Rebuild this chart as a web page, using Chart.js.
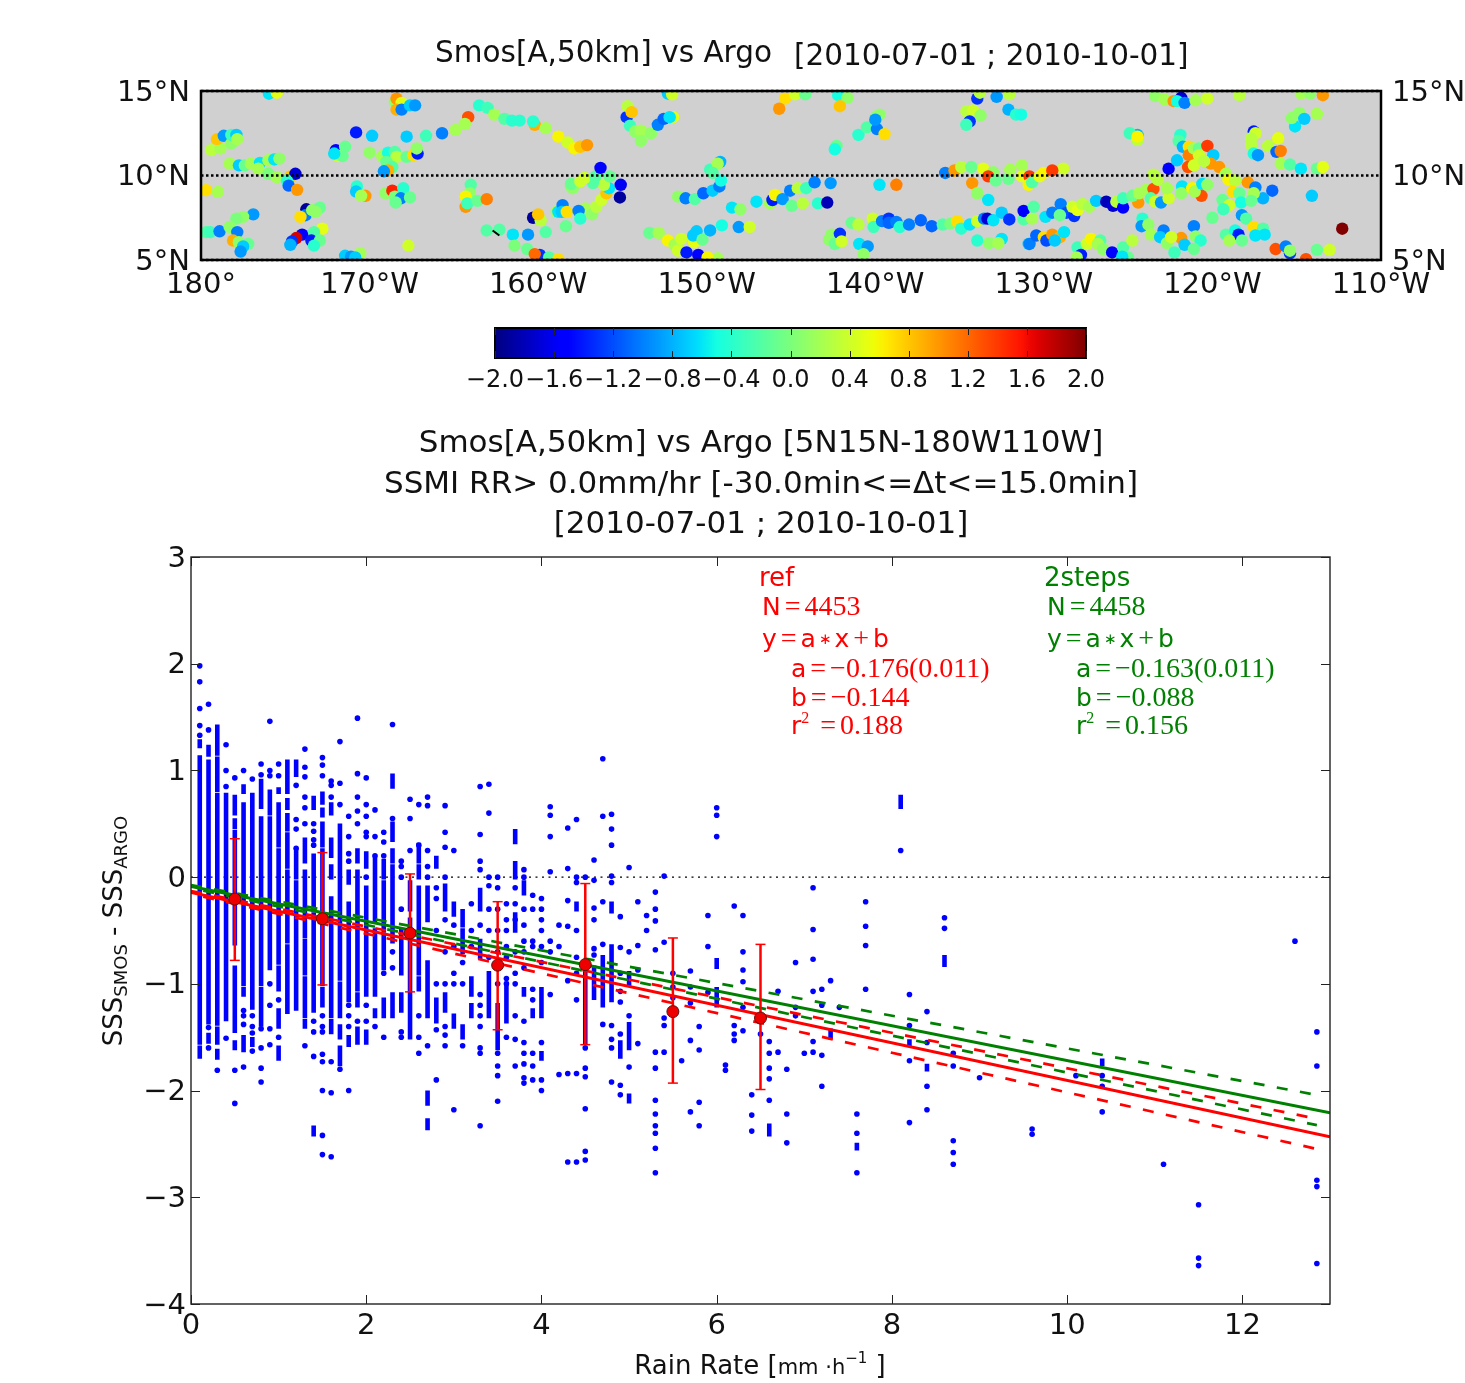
<!DOCTYPE html>
<html><head><meta charset="utf-8">
<style>
html,body{margin:0;padding:0;background:#fff;width:1465px;height:1383px;overflow:hidden}
canvas{position:absolute;left:0;filter:blur(0.45px)}
</style>
<script src="https://cdn.jsdelivr.net/npm/chart.js@4/dist/chart.umd.min.js"></script>
</head><body>
<canvas id="map" width="1465" height="310" style="top:0"></canvas>
<canvas id="bar" width="1465" height="100" style="top:310px"></canvas>
<canvas id="rain" width="1465" height="963" style="top:420px"></canvas>
<script>
// ---------- map: [lon, lat, salinity difference] ----------
const mapPoints = [
[-175.97,14.84,-.6],[-175.5,14.9,.5],[-168.5,14.35,.1],[-168.4,14.55,1],[-168.1,14.3,.5],[-168.4,13.9,.9],[-168.1,13.9,-1],[-167.6,14.15,-.7],[-167.3,14.15,-.9],
[-179.7,9.13,.7],[-179,9.03,.2],[-179.7,6.65,-.2],[-179.45,6.65,-.3],[-178.9,6.7,-1],[-179.4,11.5,.3],[-178.85,11.6,.2],[-179.05,12.15,.8],[-178.65,12.35,-.9],[-178.2,11.9,.1],[-178.2,12.4,-.3],[-177.9,12.4,-.7],[-177.85,12.15,.2],
[-178.3,10.7,.2],[-177.75,10.6,-.7],[-177.4,10.6,-.1],[-177.05,10.7,.2],[-176.5,10.75,-.6],[-176,10.9,.2],[-175.65,10.95,-.6],[-175.35,11,.1],[-176.6,10.4,.2],[-176,10.1,0],[-175.5,9.9,.2],[-174.7,9.95,.8],[-174.4,10.1,-1.7],[-174.9,9.7,-.4],[-174.8,9.4,-1.1],[-174.3,9.15,1],
[-176.9,7.7,-.9],[-177.5,7.55,.1],[-177.9,7.45,0],[-178.3,6.95,.1],[-177.85,6.65,-1],[-178.1,6.15,.9],[-177.75,6.05,.1],[-177.2,5.95,-.1],[-177.5,5.8,-.7],[-177.65,5.5,-.9],
[-173.75,8,-1.9],[-173.8,7.65,-1],[-174.1,7.55,.7],[-173.4,7.95,.1],[-172.95,8.1,-.1],[-173.2,7.85,.1],[-172.8,6.85,.5],[-173.3,6.65,-.2],[-174,6.5,-1.5],[-174.35,6.3,1.7],[-174.6,6.1,-1.3],[-174.7,5.9,-.8],[-173.45,6.15,-1.4],[-172.95,6.15,-.1],[-173.3,5.85,-.4],
[-171.45,5.25,-.7],[-171.1,5.2,-.9],[-170.55,5.4,.2],[-170.85,5.15,-.7],[-170.8,12.55,-1.4],[-169.85,12.35,-.7],[-172,11.5,-1.5],[-171.45,11.7,-.1],[-171.85,11.15,.4],[-171.6,11.15,-.1],[-172.1,11.3,-.6],
[-170,11.35,.1],[-169.25,11.15,.2],[-168.9,11.35,-.5],[-168.5,11.4,-.2],[-168.4,11.1,.3],[-169,10.8,-.1],[-168.65,10.5,-.2],[-168.9,10.3,.9],[-169.15,10.25,-.9],[-167.8,11.1,-.1],[-167.4,11.2,.7],[-167.15,11.3,-1.4],[-167.2,11.6,.1],
[-167.8,12.3,-.7],[-166.65,12.35,-.3],[-165.7,12.5,-1],[-164.9,12.7,.2],[-164.15,13.45,1.3],[-164.35,13.05,.2],[-163.5,14.15,-.4],[-163,14,-.3],[-162.6,13.6,.2],[-162,13.35,-.2],[-161.55,13.25,-.4],[-161.1,13.25,-.4],[-160.2,13,.9],[-160.3,13.2,-.4],[-159.55,12.8,.2],[-158.8,12.3,.6],[-158.25,11.95,.4],[-157.85,11.6,.6],[-157.5,11.7,.8],[-157.1,11.8,1],
[-170.75,9.35,-.4],[-170.8,9.05,-.7],[-170.25,8.8,1],[-170.5,8.8,.2],[-169.05,8.95,.1],[-168.65,9.1,1.5],[-168,9.25,-.4],[-168.5,8.75,0],[-168.15,8.65,-1],[-167.6,8.7,-.1],[-168.45,8.4,-.1],[-167.7,5.85,.4],
[-164,9.45,-.2],[-164.05,8.95,.1],[-164.3,8.75,.6],[-164.3,8.15,1],[-164.2,8.35,-.3],[-163.6,8.5,-.1],[-163.05,8.6,1.1],[-163.05,6.75,-.2],[-162.3,6.8,-.2],[-161.5,6.5,-.6],[-160.6,6.5,-.9],[-159.55,6.65,-.2],[-161.4,5.85,0],[-160.65,5.65,-.1],[-159.9,5.3,-1.3],[-160.2,5.35,1.2],[-159.35,5.15,-.2],[-158.8,5.05,.7],
[-160.3,7.5,-1.9],[-159.85,7.35,.3],[-160,7.7,.8],[-158.9,7.85,.2],[-158.8,7.85,-.6],[-158.55,8.25,-1],[-158.6,7.85,-.7],[-158.3,7.85,.7],[-158.35,7,-.1],[-157.2,8.05,.2],[-157.6,7.9,-1],[-157.5,7.45,-.4],[-156.8,7.7,.1],[-156.55,8.15,.3],[-156.25,8.55,.4],[-155.95,8.95,.8],[-155.8,9.25,-.6],[-156.1,9.45,.3],[-156.75,9.55,-.2],[-158.05,9.35,.1],[-157.95,9.25,.1],[-158.05,9.5,-.1],[-157.5,9.65,.4],[-157.25,9.85,.4],[-156.6,9.95,-.2],[-155.75,9.95,-.1],[-156.3,10.45,-1.5],[-155.1,9.45,-1.6],[-155.15,8.7,-1.9],
[-154.75,13.45,-1.3],[-154.7,14.1,.3],[-154.45,13.75,.8],[-154.55,12.95,-.3],[-154.25,12.6,.1],[-153.9,12.65,.2],[-153.9,12.05,.1],[-153.3,12.5,.1],[-152.9,13,-1],[-152.55,13.35,-1.1],[-152,13.45,.5],[-152.2,13.45,-.6],[-152.3,14.85,-.7],[-152.05,14.8,.4],
[-153.4,6.6,-.1],[-152.85,6.6,.2],[-152.3,6.15,.6],[-151.9,5.9,.2],[-151.5,6.25,.4],[-151.7,5.55,.4],[-151.2,5.45,-1.4],[-150.5,5.3,-1.5],[-150.75,6.05,.5],[-150.8,6.45,-.7],[-150.6,6.7,-.7],[-150.25,6.2,-.1],[-149.8,6.75,-.8],[-149.1,7.05,-.5],[-148.1,6.95,-.9],[-149.35,5.1,.2],[-149.95,5.15,.6],[-148.5,8.1,-.6],[-148,8,.1],
[-151.7,8.75,.1],[-151.25,8.65,-1],[-150.7,8.6,-.2],[-150.2,8.95,-1.1],[-149.65,9.1,-.7],[-149.25,9.35,-1],[-149.15,9.7,-.5],[-149.8,10.35,-.3],[-149.2,10.8,-.8],[-149.35,10.7,.2],[-149.65,10.15,-.2],
[-147.05,8.45,-.6],[-146.25,8.35,.2],[-146.1,8.55,-1.4],[-145.95,8.85,.6],[-145.5,8.6,-.9],[-145.05,9.1,-1],[-144.95,8.2,-.1],[-144.6,9.25,.3],[-144.3,8.35,.3],[-144.1,9.25,-.3],[-143.6,9.6,-1],[-142.65,9.55,-.9],[-143.4,8.35,-.4],[-142.85,8.4,-1.8],[-147.45,6.95,.4],
[-145.35,14.55,.7],[-145.7,13.95,1],[-144.75,14.8,.4],[-144.15,14.8,-.1],[-142.2,14.75,-.5],[-141.65,14.6,.1],[-142.1,14.1,.8],[-142.3,11.75,-.1],[-142.4,11.55,-.5],[-141,12.4,-.4],[-140.5,12.85,-.2],[-139.9,12.75,-1],[-139.45,12.45,.7],[-139.75,13.6,.1],[-139.95,13.45,.1],[-140,13.3,-.9],[-139.75,9.45,-.6],[-138.75,9.45,1.1],
[-141.4,7.2,-.1],[-141,7.1,.3],[-140.15,7.45,.4],[-140.1,6.95,-.3],[-139.6,7.3,-1],[-139.2,7.45,-1.3],[-139.2,7.2,-1.1],[-138.75,7.25,-1],[-138.55,6.95,-.4],[-138,7.1,-1],[-137.3,7.35,-1.1],[-136.65,7,-1.1],[-136,7.1,-.2],[-135.55,7.15,0],[-135.15,7.3,.7],[-134.9,6.85,-.4],[-134.4,7.1,-.6],[-133.95,7.3,.4],[-133.55,7.45,-1],[-133.35,7.45,-1.7],[-133,7.35,-.6],[-132.5,7.8,-.7],[-132.05,7.4,-1.3],[-131.2,7.4,-.2],[-131.2,7.9,-1.5],[-130.7,7.45,.2],[-130.6,8.15,-.2],[-129.9,7.55,-.6],[-129.5,7.8,-1],[-129,8.3,-1],[-128.65,7.8,-1.2],[-129.05,7.65,-.1],[-128.2,7.6,-1.3],[-128.3,8.15,.4],[-128,7.95,.5],[-127.7,8.3,.3],[-127.3,8.15,.2],[-126.9,8.5,-.7],[-126.3,8.45,-1.8],[-125.9,8.2,-1.7],[-125.7,8.45,.3],[-125.3,8.1,-1.5],[-124.4,8.4,1],[-125.3,8.65,-.3],[-124.75,8.8,-.1],[-124.35,8.95,.2],[-123.95,9.15,.2],[-123.5,9.2,1.3],[-123.65,8.65,-.2],[-123.4,8.45,.4],[-123.05,8.4,-.9],[-122.6,8.65,.4],[-122.7,9.25,.2],[-123.25,9.75,.3],[-123.5,10.05,.3],[-122.6,10.4,-1.5],[-122.1,10.9,-.7],[-121.9,12.4,-.4],[-122,12.05,-.2],[-121.75,11.7,-.8],[-121.4,11.7,.7],[-121.4,11.2,1.1],[-121.45,10.5,1.3],[-121.1,11.6,.2],[-120.8,11.6,-.1],[-120.3,11.75,1.4],[-119.95,11.2,-.7],[-120.8,11.2,.4],[-121.1,10.6,.4],[-120.1,10.7,1],[-119.6,10.5,1],[-120.5,10.85,.3],[-119.2,10.1,.2],
[-121.8,9.35,-.6],[-121.85,8.95,.1],[-121.2,9.25,.6],[-120.65,8.8,1.3],[-121.05,9.05,.2],[-120.6,9.5,-.6],[-120.3,9.45,.1],[-119.05,9.75,.6],[-118.65,9.7,.3],[-117.9,9.6,1],[-117.45,9.3,-1],[-116.45,9.1,-1.1],[-117,8.65,-.8],[-117.55,8.95,.2],[-118.8,9.05,.7],[-118.4,8.95,-.1],[-119.4,8.55,-.1],[-118.3,8.4,-.5],[-119,8.25,.4],[-119.35,8,-.3],[-117.7,8.5,-.1],[-118.25,7.65,-.9],[-114.1,8.8,-.7],[-120,7.5,-.1],[-118,7.45,-.2],
[-124.15,7.45,-.4],[-124.2,7,-.9],[-123.8,7.1,.1],[-123.65,6.5,.2],[-122.9,6.75,-1],[-123.1,6.35,-.7],[-121.85,6.3,1],[-122.7,6,.1],[-122.45,6.35,.4],[-121.1,7,-1],[-121.65,5.9,-.7],[-122.25,5.45,-.3],[-121,6.4,.1],[-120.7,6.15,-.4],[-121.1,5.65,-.1],
[-119.2,6.5,-.2],[-118.65,6.75,-.5],[-118.45,6.5,-1.4],[-119,6.15,.2],[-118.25,6.15,-.1],[-117.55,6.95,.7],[-117,6.85,-.2],[-117.45,6.45,-.6],[-116.9,6.5,-.6],[-116.25,5.65,1.3],[-115.65,5.8,-1],[-115.4,5.4,-1.3],[-115.4,5.55,.1],[-114.45,5.05,1.3],[-113.8,5.6,-.1],[-113.05,5.6,.4],[-112.3,6.85,2],
[-123.4,14.7,.1],[-122.85,14.5,.2],[-122.3,14.4,1],[-121.85,14.6,-1.7],[-122.1,14.4,-.5],[-121.65,14.3,-1],[-121,14.45,.2],[-120.3,14.55,.4],[-118.4,14.75,.3],[-114.75,14.85,.2],[-114.2,14.85,.1],[-113.45,14.75,1],
[-124.45,12.4,-.8],[-124.9,12.5,-.3],[-124.45,12.1,.3],[-124.45,12.3,.6],[-117.55,12.6,-1.4],[-117.45,12.5,.4],[-117.7,12.2,.3],[-117.7,11.8,.3],[-116.7,11.75,.3],[-116.1,12.2,.5],[-117.55,11.3,-.5],[-117.3,11.2,-.9],[-116.2,11.4,-1.1],[-115.95,11.45,1.1],[-115.95,10.7,.2],[-115.4,10.65,-.2],[-114.75,10.4,-.6],[-113.8,10.4,-.1],[-113.45,10.5,.5],[-115.1,12.9,-.6],[-115.3,13.4,.1],[-114.85,13.7,.1],[-114.55,13.35,-.7],[-113.8,13.65,.2],
[-134.6,13.8,.3],[-134.2,13.85,.4],[-133.75,13.55,.1],[-134.4,13.2,-1.3],[-134.6,13,-.3],[-133.95,14.55,-1.3],[-132.8,14.65,-.9],[-133.8,14.9,.3],[-132.05,14.8,.3],[-132.1,13.9,-.8],[-131.65,13.6,-.4],[-131.35,13.6,-.5],
[-135.85,10.15,-1],[-135.3,10.3,1],[-134.9,10.5,.3],[-134.3,10.5,-.1],[-133.6,10.4,.5],[-133,10.2,.1],[-133.3,9.95,1.4],[-134.25,9.55,1],[-132.85,9.7,-.1],[-132.1,9.8,-.1],[-132,10.35,.2],[-131.3,10.6,.2],[-131.3,9.95,.5],[-130.85,9.95,1.4],[-130.9,9.45,.6],[-130.7,9.6,-.2],[-130.25,9.95,.5],[-130,10.15,.6],[-128.85,10.4,.4],[-129.5,10.3,1.4],[-133.95,8.95,.1],[-133.3,8.55,-.6],
[-133.95,6.15,-.4],[-133.25,6,.1],[-132.5,6.25,-.6],[-132.7,6,.2],[-130.9,5.95,-.7],[-130.85,5.95,-1],[-130.45,6.45,-1.1],[-130,6.35,.7],[-129.85,6.15,-1.2],[-129.5,6.5,1],[-129.05,6.35,.9],[-129.35,6.15,-.7],[-128.8,6.65,-.6],
[-142.75,6.2,.1],[-142.6,6.5,.1],[-142.1,6.55,-1.3],[-142.4,5.95,-.1],[-142,6.1,.4],[-140.95,5.95,-.6],[-140.45,5.8,-.9],[-140.7,5.35,.1],
[-128,5.75,-.3],[-127.8,5.3,-1.4],[-128.05,5.15,.2],[-127.45,5.95,.4],[-127.2,6.25,.6],[-126.65,6.15,-.2],[-126.8,5.95,.2],[-126.5,5.65,.1],[-125.95,5.45,-1.5],[-125.3,5.75,-.2],[-124.75,6.15,.3],[-125,5.15,-.1],[-125.35,5.2,-.6]
];
const mapStreak = [[-162.7,6.75],[-162.3,6.45]];
const latLines = [5,10,15];
const mapLonRange = [-180,-110];
const mapLatRange = [5,15];
const colorRange = [-2,2];

// ---------- rain scatter: a number is one dot, a pair is a solid run of dots ----------
const rainRates = [.1,.2,.3,.4,.5,.6,.7,.8,.9,1,1.1,1.2,1.3,1.4,1.5,1.6,1.7,1.8,1.9,2,2.1,2.2,2.3,2.4,2.5,2.6,2.7,2.8,2.9,3,3.1,3.2,3.3,3.4,3.5,3.6,3.7,3.8,3.9,4,4.1,4.2,4.3,4.4,4.5,4.6,4.7,4.8,4.9,5,5.1,5.2,5.3,5.4,5.5,5.6,5.7,5.8,5.9,6,6.1,6.2,6.3,6.4,6.5,6.6,6.7,6.8,6.9,7,7.1,7.2,7.3,7.4,7.6,7.7,8.1,8.2,8.4,8.6,8.7,9,9.6,10.1,10.4,11.1,11.5,12.6,12.85];
const rainDiffs = [
[1.98,1.83,1.58,1.42,1.33,[1.27,1.23],[1.12,1.05],[1.02,-1.36],[-1.4,-1.55],[-1.6,-1.68]],
[1.62,1.38,[1.22,1.15],[1.08,-1.36],-1.41,[-1.48,-1.54],-1.6],
[[1.41,1.28],[1.24,1.16],[1.11,.92],[.88,.82],[.77,-1.37],[-1.42,-1.55],[-1.63,-1.69],-1.81],
[1.24,1,.85,[.77,-1.33],-1.51],
[.93,[.75,.68],[.66,.6],[.53,.47],[.42,-.62],[-.85,-1.37],[-1.4,-1.44],[-1.55,-1.6],-1.81,-2.12],
[1,[.85,.8],[.68,-1],[-1.05,-1.1],-1.25,-1.3,-1.38,[-1.5,-1.62],-1.78],
[.92,[.77,.7],[.68,.62],[.6,.45],[.43,-1.22],-1.3,-1.4,-1.46,[-1.52,-1.57],-1.63],
[1.06,.96,[.9,.76],[.72,.66],[.55,.45],[.42,-1],[-1.05,-1.38],-1.42,-1.6,-1.79,-1.92],
[1.46,1,.95,[.8,.7],[.67,.6],[.55,.3],[.28,-.85],-1,-1.2,-1.42,-1.57],
[1.06,.95,[.82,.8],[.68,.3],[.25,-.8],[-.85,-1.05],-1.15,[-1.25,-1.4],-1.5,[-1.6,-1.7]],
[[1.08,.9],[.88,.8],[.72,.65],[.58,.45],[.4,.1],[.05,-.6],[-.65,-1.26]],
[[1.08,1.04],[1,.96],.86,.54,.45,.27,[.25,0],[-.05,-1],[-1,-1.23]],
[1.2,1.03,.94,.75,.65,.5,[.35,.15],[.05,-.05],[-.05,-.55],[-.6,-.9],[-.95,-1.05],[-1.05,-1.3],[-1.35,-1.4],-1.58],
[[.74,.65],.5,.43,.35,.3,[.2,-.3],[-.35,-1.25],-1.35,-1.45,-1.68,[-2.35,-2.41]],
[1.12,1.05,.95,[.78,.7],[.63,.58],[.5,.3],[.25,.18],[.15,-1],[-1.05,-1.2],-1.3,-1.4,-1.45,-1.66,-1.73,-2,-2.42,-2.6],
[.9,.86,.75,[.68,.6],[.35,.2],[.1,0],[-.2,-1.3],[-1.35,-1.45],-1.73,-2.02,-2.62],
[1.27,.88,.68,[.48,.18],[.18,-.1],[-.1,-.95],[-1,-1.3],[-1.4,-1.5],[-1.6,-1.75],-1.8],
[.57,.38,.22,.15,[.05,-.05],[-.25,-1.15],-1.2,-1.3,-1.4,[-1.5,-1.57],-2],
[1.49,.97,.75,.62,.5,[.25,.15],[.05,-1.05],[-1.1,-1.2],-1.35,[-1.42,-1.55]],
[.93,.68,.57,.42,.38,[.22,.1],0,[-.1,-1],[-1,-1.1],-1.2,-1.35,[-1.45,-1.55]],
[.63,.38,.2,[.18,-.4],[-.5,-1.1],[-1.25,-1.3],-1.4],
[.42,.33,.2,[.15,0],[-.05,-.5],[-.55,-.85],-.9,[-1.15,-1.3],-1.5],
[1.43,[.95,.85],.55,[.5,.35],[.25,.15],[.1,-.1],[-.1,-.6],-.7,-.85,[-1.1,-1.3]],
[.15,.1,0,-.3,[-.5,-.9],[-1.1,-1.25],-1.45,-1.5],
[.73,.55,.25,[-.05,-.3],[-.4,-1.25],[-1.1,-1.5]],
[.68,.3,[.3,.15],[.1,0],[-.1,-.9],[-.95,-1.05],-1.3,-1.5,-1.65],
[.75,.67,.25,.1,0,[-.1,-.4],[-.8,-1.1],[-1.1,-1.3],-1.58,[-2.02,-2.12],[-2.28,-2.35]],
[[.18,.1],-.1,-.2,-.5,-1,[-1.15,-1.35],-1.43,-1.9],
[.67,.42,.28,0,[-.08,-.3],-.4,-.7,-1,[-1.1,-1.25],-1.4,-1.48,-1.58],
[.25,[-.25,-.35],-.45,-.65,-.9,-1,[-1.3,-1.4],-2.18],
[[-.32,-.45],[-.5,-.7],-.8,-1,[-1.4,-1.5],-1.58],
[-.25,-.5,-.65,[-.95,-1.1],[-1.2,-1.3]],
[.85,.4,.15,.07,[-.12,-.3],-.45,[-.6,-.75],-1.1,-1.2,-1.3,-1.4,-1.6,-1.65,-2.33],
[.87,.6,0,-.08,-.3,-.5,-.75,[-.9,-1.3]],
[0,-.1,-.3,-.5,-.7,-1,[-1.2,-1.6],-1.65,-1.77,-1.86,-2.1],
[-.25,-.4,-.5,-.65,-.75,-.95,-1,[-1,-1.35],-1.5],
[[.43,.33],[.13,0],-.1,-.25,-.4,[-.35,-.5],-.7,-.9,-1,-1.3,-1.52,-1.77],
[.07,0,[-.05,-.15],-.3,-.45,-.6,-.7,-.85,[-1.05,-1.1],-1.35,-1.55,-1.65,-1.75,-1.88,-1.93],
[-.17,-.3,-.6,-.65,-1.05,-1.15,[-1.25,-1.3],-1.65,-1.77,-1.9],
[-.2,-.3,-.4,-.5,-.65,-.8,[-1.05,-1.3],-1.55,[-1.65,-1.7],-1.9,-2],
[.66,.58,.38,.05,-.6,-.7,-1.1],
[-.45,-.65,-1.85],
[.46,.08,-.22,-.46,-.97,-1.84,-2.67],
[.54,0,-.05,[-.25,-.3],-.5,-.75,-.9,-1.15,-1.84,-2.67],
[0,[-.85,-1.55],-1.6,-1.79,-1.87,-2.17,-2.57,-2.65],
[.16,-.03,-.29,-.4,-.67,-.73,[-.85,-1.13]],
[1.11,.57,-.23,-.63,[-.75,-.95],[-1,-1.2],-1.38],
[.59,.45,.3,.01,-.05,[-.25,-.32],[-.65,-1.15],-1.39,-1.52,-1.6,-1.92],
[-.37,-.66,-.9,-1.07,-1.17,-1.47,[-1.55,-1.68],-1.95,-2.04],
[.09,-.7,[-.9,-1],-1.3,[-1.38,-1.6],-1.78,[-2.05,-2.1]],
[-.23,-.64,-.87,-1.56],
[-.36,-.5],
[-.14,-.3,-.41,-.68,-1.64,-1.79,-2.09,-2.22,-2.33,-2.4,-2.54,-2.77],
[.01,-.61,-1.32,-1.39,-1.64],
[-.9,-1.03,-1.13],
[-1.72],
[-.88,-1.03,-1.18,-1.53,-2.2],
[-1.4,-1.62,-2.11,-2.33],
[-.36,-.65,-1.08],
[.65,.58,.38,[-.78,-.84],[-1.05,-1.2]],
[-1.76,-1.81],
[-.27,-1.39,-1.47,-1.53],
[-.36,-.7,-.87,-.98,-1.22,-1.44],
[-2.04,-2.23,-2.38],
[-1.47],
[-1.54,-1.65,-1.79,-1.89,-2.09,[-2.33,-2.41]],
[-1.07,-1.64],
[-1.8,-2.22,-2.49],
[-.8,-1.22,-1.3],
[-1.65],
[-.1,-.49,-.77,-1.07,-1.54,-1.64],
[-1.05,-1.2,-1.67,-1.96],
[-.97,[-1.44,-1.5]],
[-1.22],
[-2.22,-2.4,[-2.51,-2.54],-2.77],
[-.23,-.46,-.64,-1.05],
[[.75,.66],.25],
[-1.1,-1.39,[-1.54,-1.57],-1.72,-2.3],
[-1.26,-1.55,[-1.77,-1.8],-1.96,-2.18],
[-.38,-.48,[-.75,-.82]],
[-1.65,-1.77,-2.47,-2.58,-2.69],
[-1.88],
[-2.36,-2.41],
[-1.86],
[[-1.72,-1.75],-1.86,-1.96,-2.2],
[-2.69],
[-3.07,-3.57,-3.64],
[-.6],
[-1.45,-1.77,-2.84,-2.9,-3.62]
];
// ---------- binned means and their spread ----------
const binCentres = [.5,1.5,2.5,3.5,4.5,5.5,6.5];
const binMeans   = [-.206,-.39,-.525,-.825,-.82,-1.26,-1.32];
const binTops    = [.36,.23,.03,-.23,-.06,-.57,-.63];
const binBottoms = [-.78,-1.01,-1.075,-1.43,-1.57,-1.93,-1.99];
// ---------- fits: [[x0,y0],[x1,y1]] ----------
const zeroLine  = [[0,0],[13,0]];
const refFit    = [[0,-.144],[13,-2.432]];
const refUpper  = [[0,-.13],[12.85,-2.264]];
const refLower  = [[0,-.158],[12.85,-2.547]];
const stepsFit  = [[0,-.088],[13,-2.207]];
const stepsUpper= [[0,-.074],[12.85,-2.041]];
const stepsLower= [[0,-.102],[12.85,-2.324]];

Chart.defaults.animation = false;
Chart.defaults.responsive = false;
Chart.defaults.font.family = '"DejaVu Sans"';
Chart.defaults.color = '#000';
Chart.defaults.plugins.legend.display = false;
Chart.defaults.plugins.tooltip.enabled = false;

function lerpStops(t,s){ for(let i=1;i<s.length;i++){ if(t<=s[i][0]){ const a=s[i-1],b=s[i]; return a[1]+(b[1]-a[1])*(t-a[0])/(b[0]-a[0]); } } return s[s.length-1][1]; }
function jet(v){
  const t=Math.max(0,Math.min(1,(v-colorRange[0])/(colorRange[1]-colorRange[0])));
  const r=lerpStops(t,[[0,0],[.35,0],[.66,1],[.89,1],[1,.5]]);
  const g=lerpStops(t,[[0,0],[.125,0],[.375,1],[.64,1],[.91,0],[1,0]]);
  const b=lerpStops(t,[[0,.5],[.11,1],[.34,1],[.65,0],[1,0]]);
  return `rgb(${Math.round(r*255)},${Math.round(g*255)},${Math.round(b*255)})`;
}
const pts = a => a.map(p=>({x:p[0],y:p[1]}));
const fixedAxis = (s,prop,val)=>{ s[prop]=val; };

// frame, inner ticks, background, texts
const furniture = {
  id:'furniture',
  beforeDatasetsDraw(c,_,o){
    const a=c.chartArea,g=c.ctx;
    if(o.background){ g.save(); g.fillStyle=o.background; g.fillRect(a.left,a.top,a.width,a.height); g.restore(); }
    if(o.jet){ g.save(); const gr=g.createLinearGradient(a.left,0,a.right,0);
      for(let i=0;i<=64;i++){ gr.addColorStop(i/64,jet(colorRange[0]+(colorRange[1]-colorRange[0])*i/64)); }
      g.fillStyle=gr; g.fillRect(a.left,a.top,a.width,a.height); g.restore(); }
  },
  afterDraw(c,_,o){
    const a=c.chartArea,g=c.ctx; g.save();
    g.lineWidth=o.frame||1.5; g.strokeStyle=o.frameColor||'#000';
    g.strokeRect(a.left,a.top,a.width,a.height);
    const L=o.tick||0;
    if(L){ g.lineWidth=1; g.strokeStyle='#222'; g.beginPath();
      c.scales.x.ticks.forEach(t=>{const p=Math.round(c.scales.x.getPixelForValue(t.value))+.5; g.moveTo(p,a.top);g.lineTo(p,a.top+L);g.moveTo(p,a.bottom);g.lineTo(p,a.bottom-L);});
      if(o.yTicks) c.scales.y.ticks.forEach(t=>{const p=Math.round(c.scales.y.getPixelForValue(t.value))+.5; g.moveTo(a.left,p);g.lineTo(a.left+L,p);g.moveTo(a.right,p);g.lineTo(a.right-L,p);});
      g.stroke(); }
    g.restore();
    (o.texts||[]).forEach(t=>drawRuns(g,t));
  }
};
function drawRuns(g,t){
  g.save(); g.translate(t.x,t.y); if(t.rot) g.rotate(t.rot);
  g.fillStyle=t.color||'#111'; g.textBaseline='alphabetic'; g.textAlign='left';
  const runs=t.runs||[{s:t.s,f:t.f}]; let tot=0;
  runs.forEach(r=>{g.font=r.f||t.f; tot+=g.measureText(r.s).width+2*(r.pad||0);});
  let x=t.center?-tot/2:0;
  runs.forEach(r=>{g.font=r.f||t.f; x+=r.pad||0; g.fillText(r.s,x,r.dy||0); x+=g.measureText(r.s).width+(r.pad||0);});
  g.restore();
}
const tickFont={size:29,family:'"DejaVu Sans"'};
const minus=s=>String(s).replace('-','\u2212');

// ---------- map chart ----------
new Chart(document.getElementById('map'),{
  type:'scatter',
  plugins:[furniture],
  data:{datasets:[
    ...latLines.map(v=>({type:'line',order:1,data:[{x:mapLonRange[0],y:v},{x:mapLonRange[1],y:v}],borderColor:'#000',borderWidth:2.5,borderDash:[2.5,2.5],pointRadius:0,clip:false})),
    {type:'line',order:2,data:pts(mapStreak),borderColor:'#000',borderWidth:2,pointRadius:0},
    {order:3,data:mapPoints.map(p=>({x:p[0],y:p[1],v:p[2]})),clip:0,pointRadius:6.2,borderWidth:0,pointBorderWidth:0,
     backgroundColor:ctx=>ctx.raw?jet(ctx.raw.v):'#000'}
  ]},
  options:{
    layout:{padding:{top:91}},
    scales:{
      x:{type:'linear',min:mapLonRange[0],max:mapLonRange[1],grid:{display:false,drawTicks:false},border:{display:false},
         afterFit:s=>fixedAxis(s,'height',50),
         ticks:{stepSize:10,autoSkip:false,maxRotation:0,padding:8,font:tickFont,color:'#111',includeBounds:false,callback:v=>v===-180?'180°':(-v)+'°W'}},
      y:{type:'linear',min:mapLatRange[0],max:mapLatRange[1],grid:{display:false,drawTicks:false},border:{display:false},
         afterFit:s=>fixedAxis(s,'width',201),
         ticks:{stepSize:5,padding:11,labelOffset:2,font:tickFont,color:'#111',callback:v=>v+'°N'}},
      yR:{type:'linear',position:'right',display:true,min:mapLatRange[0],max:mapLatRange[1],grid:{display:false,drawTicks:false},border:{display:false},
         afterFit:s=>fixedAxis(s,'width',84),
         ticks:{stepSize:5,padding:11,labelOffset:2,font:tickFont,color:'#111',callback:v=>v+'°N'}}
    },
    plugins:{furniture:{background:'#d0d0d0',frame:2.5,
      texts:[
        {s:'Smos[A,50km] vs Argo',f:'29.5px "DejaVu Sans"',x:435,y:62},
        {s:'[2010-07-01 ; 2010-10-01]',f:'29.5px "DejaVu Sans"',x:794,y:65}
      ]}}
  }
});

// ---------- colour bar ----------
new Chart(document.getElementById('bar'),{
  type:'scatter',
  plugins:[furniture],
  data:{datasets:[{data:[]}]},
  options:{
    layout:{padding:{top:18,left:495,right:379}},
    scales:{
      x:{type:'linear',min:colorRange[0],max:colorRange[1],grid:{display:false,drawTicks:false},border:{display:false},
         afterFit:s=>fixedAxis(s,'height',52),
         ticks:{stepSize:.4,autoSkip:false,maxRotation:0,padding:8,color:'#111',font:{size:24,family:'"DejaVu Sans"'},includeBounds:false,
                callback:v=>minus((Math.abs(v)<1e-9?0:v).toFixed(1))}},
      y:{display:false,min:0,max:1}
    },
    plugins:{furniture:{jet:true,frame:2,tick:7}}
  }
});

// ---------- rain chart ----------
const dotData=[],runData=[];
rainRates.forEach((x,i)=>rainDiffs[i].forEach(d=>{
  if(Array.isArray(d)){ runData.push({x,y:d[0]},{x,y:d[1]},{x,y:NaN}); }
  else dotData.push({x,y:d});
}));
const errLines=[],capPts=[];
binCentres.forEach((x,i)=>{ errLines.push({x,y:binTops[i]},{x,y:binBottoms[i]},{x,y:NaN}); capPts.push({x,y:binTops[i]},{x,y:binBottoms[i]}); });
const fitLine=(d,col,w,dash,order,off)=>({type:'line',order,data:pts(d),borderColor:col,borderWidth:w,borderDash:dash||[],borderDashOffset:off||0,pointRadius:0,clip:0});
const RED='#ff0000',GRN='#008000';
const sans='"DejaVu Sans"',serif='"Liberation Serif"';
const S=(s)=>({s,f:`25px ${sans}`}), M=(s)=>({s,f:`28px ${serif}`}), E=(s)=>({s,f:`28px ${serif}`,pad:4}),
      STAR=()=>({s:'\u2217',f:`15px ${sans}`,pad:3,dy:-3}), SUP=s=>({s,f:`16px ${serif}`,dy:-11});
function block(col,x0,x1,name,n,a,aerr,b,r2){
  const c=col;
  return [
    {s:name,f:`26px ${sans}`,x:x0-3,y:586,color:c},
    {runs:[S('N'),E('='),M(n)],x:x0,y:615,color:c},
    {runs:[S('y'),E('='),S('a'),STAR(),S('x'),E('+'),S('b')],x:x0,y:647,color:c},
    {runs:[S('a'),E('='),M('\u2212'+a+'('+aerr+')')],x:x1,y:677,color:c},
    {runs:[S('b'),E('='),M('\u2212'+b)],x:x1,y:706,color:c},
    {runs:[S('r'),SUP('2'),M(' '),E('='),M(r2)],x:x1,y:734,color:c}
  ].map(t=>({...t,y:t.y-420}));
}
new Chart(document.getElementById('rain'),{
  type:'scatter',
  plugins:[furniture],
  data:{datasets:[
    {order:1,data:binCentres.map((x,i)=>({x,y:binMeans[i]})),pointRadius:6,backgroundColor:'#ee0000',borderColor:'#5a1010',borderWidth:1,pointBorderWidth:1,clip:0},
    {order:2,data:capPts,pointStyle:'line',pointRadius:5,pointBorderWidth:1.5,borderColor:RED,backgroundColor:RED,clip:0},
    {type:'line',order:3,data:errLines,borderColor:RED,borderWidth:2.5,pointRadius:0,spanGaps:false,clip:0},
    fitLine(refFit,RED,3,null,4),
    fitLine(refUpper,RED,2.7,[11,12.5],5),
    fitLine(refLower,RED,2.7,[11,12.5],6,11),
    fitLine(stepsFit,GRN,3,null,7),
    fitLine(stepsUpper,GRN,2.7,[11,12.5],8),
    fitLine(stepsLower,GRN,2.7,[11,12.5],9,11),
    {order:10,data:dotData,pointRadius:2.8,backgroundColor:'#0000ff',borderWidth:0,pointBorderWidth:0,clip:0},
    {type:'line',order:11,data:runData,borderColor:'#0000ff',borderWidth:4.6,borderCapStyle:'square',pointRadius:0,spanGaps:false,clip:0},
    fitLine(zeroLine,'#000',1.3,[2,4.5],12)
  ]},
  options:{
    layout:{padding:{top:137}},
    scales:{
      x:{type:'linear',min:0,max:13,grid:{display:false,drawTicks:false},border:{display:false},
         afterFit:s=>fixedAxis(s,'height',79),
         ticks:{stepSize:2,autoSkip:false,maxRotation:0,padding:5,font:tickFont,color:'#111',includeBounds:false}},
      y:{type:'linear',min:-4,max:3,grid:{display:false,drawTicks:false},border:{display:false},
         afterFit:s=>fixedAxis(s,'width',191),
         ticks:{stepSize:1,padding:5,labelOffset:2,font:tickFont,color:'#111',callback:v=>minus(v)}},
      yR:{display:false,position:'right',afterFit:s=>fixedAxis(s,'width',135)}
    },
    plugins:{furniture:{frame:1.4,frameColor:'#222',tick:9,yTicks:true,
      texts:[
        {s:'Smos[A,50km] vs Argo [5N15N-180W110W]',f:'31px "DejaVu Sans"',x:761,y:32,center:true},
        {s:'SSMI RR> 0.0mm/hr [-30.0min<=\u0394t<=15.0min]',f:'31px "DejaVu Sans"',x:761,y:73,center:true},
        {s:'[2010-07-01 ; 2010-10-01]',f:'31px "DejaVu Sans"',x:761,y:113,center:true},
        {runs:[{s:'Rain Rate [',f:`26px ${sans}`},{s:'mm \u00b7h',f:`21px ${sans}`},{s:'\u22121',f:`15px ${sans}`,dy:-11},{s:' ]',f:`26px ${sans}`}],x:760,y:954,center:true},
        {runs:[{s:'SSS',f:`26px ${sans}`},{s:'SMOS',f:`18px ${sans}`,dy:5},{s:' - SSS',f:`26px ${sans}`},{s:'ARGO',f:`18px ${sans}`,dy:5}],x:122,y:511,center:true,rot:-Math.PI/2},
        ...block(RED,762,791,'ref','4453','0.176','0.011','0.144','0.188'),
        ...block(GRN,1047,1076,'2steps','4458','0.163','0.011','0.088','0.156')
      ]}}
  }
});
</script>
</body></html>
